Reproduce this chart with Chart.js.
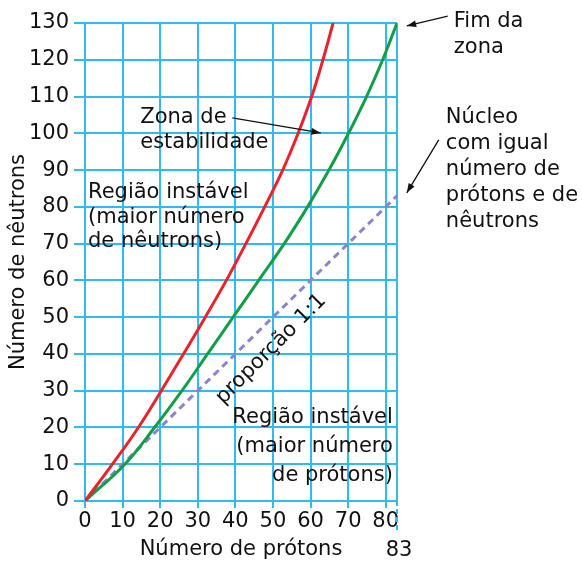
<!DOCTYPE html>
<html>
<head>
<meta charset="utf-8">
<script src="https://cdn.jsdelivr.net/npm/chart.js@4.4.1/dist/chart.umd.min.js"></script>
<style>
  html, body { margin: 0; padding: 0; background: #fff; }
  canvas { display: block; }
</style>
</head>
<body>
<canvas id="myChart" width="582" height="562"></canvas>
<script>
// tick labels
var xTicks = [0, 10, 20, 30, 40, 50, 60, 70, 80];
var xEnd = 83;
var yTicks = [0, 10, 20, 30, 40, 50, 60, 70, 80, 90, 100, 110, 120, 130];

// zona de estabilidade (limite superior, vermelho)
var redX = [0, 7.3, 14.2, 20.3, 26.2, 32, 37.6, 42.8, 47.8, 52.6, 56.7, 60.3, 63.3, 66];
var redY = [0, 10, 20, 30, 40, 50, 60, 70, 80, 90, 100, 110, 120, 130];

// zona de estabilidade (limite inferior, verde)
var greenX = [0, 10.6, 18.5, 25.8, 32.6, 39.4, 46.2, 53, 59.2, 64.9, 70.1, 74.9, 79.2, 83];
var greenY = [0, 10, 20, 30, 40, 50, 60, 70, 80, 90, 100, 110, 120, 130];

// proporção 1:1
var equalX = [0, 83];
var equalY = [0, 83];

function pts(xs, ys) {
  return xs.map(function (x, i) { return { x: x, y: ys[i] }; });
}

var gridColor = '#30bbee';
var textColor = '#111111';
var fontSize = 21;
Chart.defaults.font.family = 'DejaVu Sans';
Chart.defaults.color = textColor;

var notes = [
  { lines: ['Zona de', 'estabilidade'], x: 14.7, y: 104.2, gap: 25, align: 'left' },
  { lines: ['Região instável', '(maior número', 'de nêutrons)'], x: 0.8, y: 83.8, gap: 24.5, align: 'left' },
  { lines: ['Fim da', 'zona'], x: 98.1, y: 130.5, gap: 26, align: 'left' },
  { lines: ['Núcleo', 'com igual', 'número de', 'prótons e de', 'nêutrons'], x: 96, y: 104.2, gap: 25.8, align: 'left' },
  { lines: ['Região instável', '(maior número', 'de prótons)'], x: 81.9, y: 22.8, gap: 29, align: 'right' }
];
var arrows = [
  [39.2, 104.2, 62.7, 100.1],
  [96.5, 131.9, 85.6, 129.2],
  [94.1, 98.2, 85.6, 83.8]
];

var annotate = {
  id: 'annotate',
  afterDatasetsDraw: function (chart) {
    var c = chart.ctx, sx = chart.scales.x, sy = chart.scales.y;
    c.save();
    c.fillStyle = textColor;
    c.font = fontSize + 'px "DejaVu Sans"';
    c.textBaseline = 'middle';
    notes.forEach(function (n) {
      c.textAlign = n.align;
      var px = sx.getPixelForValue(n.x), py = sy.getPixelForValue(n.y);
      n.lines.forEach(function (t, i) { c.fillText(t, px, py + i * n.gap); });
    });
    // proporção 1:1
    c.save();
    c.translate(sx.getPixelForValue(49.5), sy.getPixelForValue(41.3));
    c.rotate(-Math.PI / 4);
    c.textAlign = 'center';
    c.fillText('proporção 1:1', 0, 0);
    c.restore();
    // setas
    c.strokeStyle = textColor;
    c.lineWidth = 1.3;
    arrows.forEach(function (a) {
      var x1 = sx.getPixelForValue(a[0]), y1 = sy.getPixelForValue(a[1]);
      var x2 = sx.getPixelForValue(a[2]), y2 = sy.getPixelForValue(a[3]);
      var ang = Math.atan2(y2 - y1, x2 - x1);
      c.beginPath(); c.moveTo(x1, y1); c.lineTo(x2, y2); c.stroke();
      c.beginPath();
      c.moveTo(x2, y2);
      c.lineTo(x2 - 10 * Math.cos(ang - 0.35), y2 - 10 * Math.sin(ang - 0.35));
      c.lineTo(x2 - 10 * Math.cos(ang + 0.35), y2 - 10 * Math.sin(ang + 0.35));
      c.closePath(); c.fill();
    });
    // 83 abaixo do eixo, com linha tracejada
    var ex = sx.getPixelForValue(xEnd);
    c.strokeStyle = gridColor;
    c.lineWidth = 2;
    c.setLineDash([5, 3]);
    c.beginPath(); c.moveTo(ex, chart.chartArea.bottom); c.lineTo(ex, chart.chartArea.bottom + 32); c.stroke();
    c.setLineDash([]);
    c.textAlign = 'center';
    c.fillText(String(xEnd), ex + 2, sx.bottom - 11);
    c.restore();
  }
};

var ctx = document.getElementById('myChart').getContext('2d');
var myChart = new Chart(ctx, {
  type: 'scatter',
  data: {
    datasets: [{
      data: pts(equalX, equalY),
      showLine: true,
      borderColor: '#8d83cb',
      borderWidth: 3,
      borderDash: [7, 5],
      pointRadius: 0,
      order: 3
    },
    {
      data: pts(greenX, greenY),
      showLine: true,
      borderColor: '#109e4a',
      borderWidth: 3,
      tension: 0.4,
      pointRadius: 0,
      order: 2
    },
    {
      data: pts(redX, redY),
      showLine: true,
      borderColor: '#e8232b',
      borderWidth: 3,
      tension: 0.4,
      pointRadius: 0,
      order: 1
    }]
  },
  options: {
    responsive: false,
    animation: false,
    events: [],
    layout: { padding: { top: 23, right: 185, left: 0, bottom: 0 } },
    plugins: {
      legend: { display: false },
      tooltip: { enabled: false }
    },
    scales: {
      x: {
        type: 'linear',
        min: 0,
        max: xEnd,
        afterBuildTicks: function (s) {
          s.ticks = xTicks.concat([xEnd]).map(function (v) { return { value: v }; });
        },
        afterFit: function (s) { s.height = 61; },
        grid: {
          color: gridColor,
          lineWidth: 2,
          tickLength: 7,
          tickColor: function (c) { return c.tick && c.tick.value === xEnd ? 'rgba(0,0,0,0)' : gridColor; }
        },
        border: { color: gridColor, width: 2 },
        ticks: {
          padding: 1,
          font: { size: fontSize },
          color: textColor,
          callback: function (v) { return v === xEnd ? '' : v; }
        },
        title: {
          display: true,
          text: 'Número de prótons',
          font: { size: fontSize },
          color: textColor,
          padding: { top: 0, bottom: 0 }
        }
      },
      y: {
        type: 'linear',
        min: 0,
        max: 130,
        afterBuildTicks: function (s) {
          s.ticks = yTicks.map(function (v) { return { value: v }; });
        },
        afterFit: function (s) { s.width = 85; },
        grid: { color: gridColor, lineWidth: 2, tickLength: 11 },
        border: { color: gridColor, width: 2 },
        ticks: { padding: 5, font: { size: fontSize }, color: textColor },
        title: {
          display: true,
          text: 'Número de nêutrons',
          font: { size: fontSize },
          color: textColor,
          padding: { top: 6, bottom: 0 }
        }
      }
    }
  },
  plugins: [annotate]
});
</script>
</body>
</html>
